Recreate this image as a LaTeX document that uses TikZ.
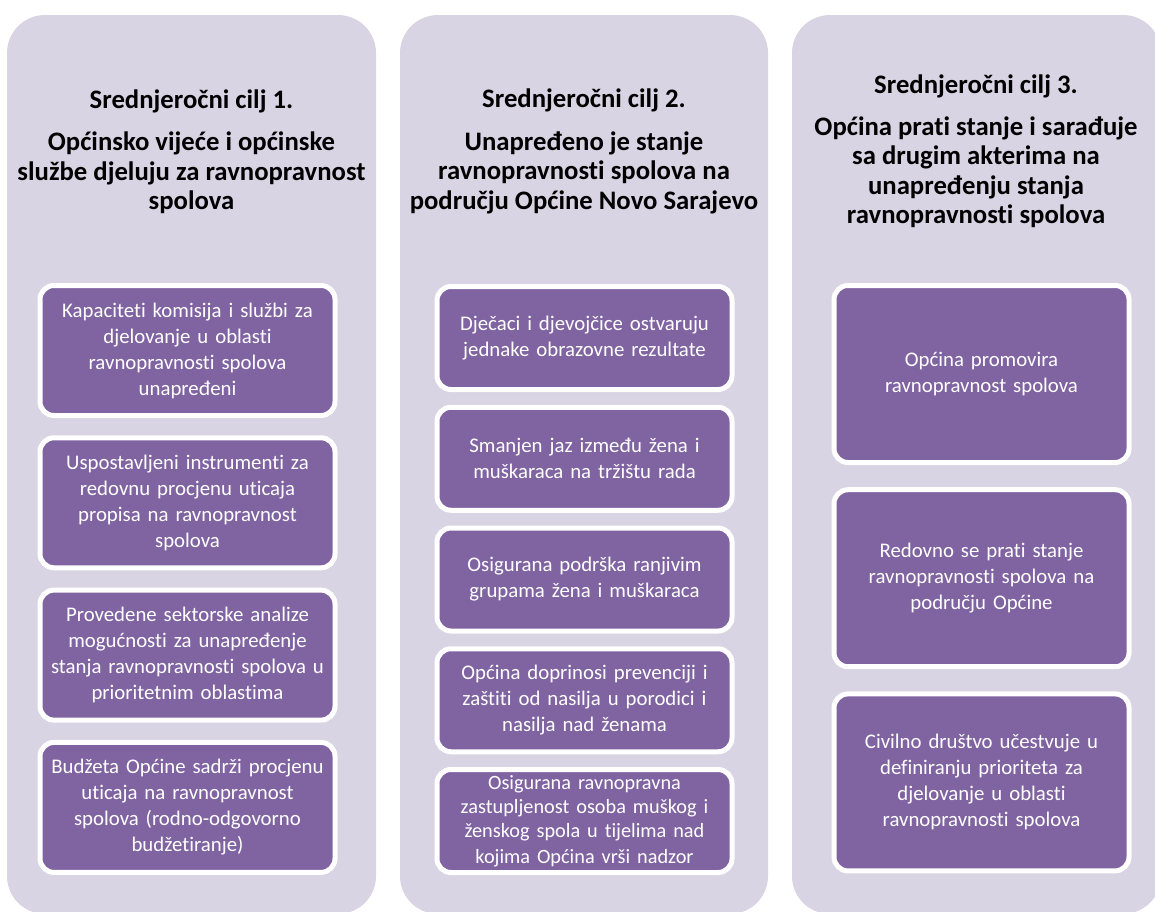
\documentclass[tikz,border=0pt]{standalone}
\usepackage{fontspec}
\setmainfont{Carlito}[Ligatures=NoCommon]
\definecolor{lavender}{RGB}{216,212,227}
\definecolor{plum}{RGB}{128,100,162}

\begin{document}
\begin{tikzpicture}[x=1pt,y=-1pt,
  panel/.style={fill=lavender, rounded corners=38pt},
  goal/.style={font=\bfseries\fontsize{26.7}{29.5}\selectfont, align=center, text=black},
  result/.style={fill=plum, draw=white, line width=5pt, rounded corners=14pt, text=white,
    align=center, text width=288pt, minimum width=295pt, inner sep=0pt,
    font=\fontsize{20.8}{26}\selectfont}]
\clip (0,0) rectangle (1155,911);
% the three panels
\fill[panel] (7,15) rectangle (376,914);
\fill[panel] (400,15) rectangle (768,914);
\fill[panel] (792,15) rectangle (1161,914);
% medium-term goals
\node[goal] (g1) at (191.5,151.5) {Srednjeročni cilj 1.\\[13pt] Općinsko vijeće i općinske\\ službe djeluju za ravnopravnost\\ spolova};
\node[goal] (g2) at (584,151.5) {Srednjeročni cilj 2.\\[13pt] Unapređeno je stanje\\ ravnopravnosti spolova na\\ području Općine Novo Sarajevo};
\node[goal] (g3) at (976,151.5) {Srednjeročni cilj 3.\\[12pt] Općina prati stanje i sarađuje\\ sa drugim akterima na\\ unapređenju stanja\\ ravnopravnosti spolova};
% results, goal 1
\foreach \txt [count=\i] in {
  {Kapaciteti komisija i službi za\\ djelovanje u oblasti\\ ravnopravnosti spolova\\ unapređeni},
  {Uspostavljeni instrumenti za\\ redovnu procjenu uticaja\\ propisa na ravnopravnost\\ spolova},
  {Provedene sektorske analize\\ mogućnosti za unapređenje\\ stanja ravnopravnosti spolova u\\ prioritetnim oblastima},
  {Budžeta Općine sadrži procjenu\\ uticaja na ravnopravnost\\ spolova (rodno-odgovorno\\ budžetiranje)}}
 \node[result, minimum height=130pt] (a\i) at (187.5,{350.5+152.3*(\i-1)}) {\txt};
% results, goal 2
\foreach \txt [count=\i] in {
  {Dječaci i djevojčice ostvaruju\\ jednake obrazovne rezultate},
  {Smanjen jaz između žena i\\ muškaraca na tržištu rada},
  {Osigurana podrška ranjivim\\ grupama žena i muškaraca},
  {Općina doprinosi prevenciji i\\ zaštiti od nasilja u porodici i\\ nasilja nad ženama},
  {\fontsize{20.3}{24}\selectfont Osigurana ravnopravna\\ zastupljenost osoba muškog i\\ ženskog spola u tijelima nad\\ kojima Općina vrši nadzor}}
 \node[result, minimum height=103pt] (b\i) at (584.5,{338+120.75*(\i-1)}) {\txt};
% results, goal 3
\foreach \txt [count=\i] in {
  {Općina promovira\\ ravnopravnost spolova},
  {Redovno se prati stanje\\ ravnopravnosti spolova na\\ području Općine},
  {Civilno društvo učestvuje u\\ definiranju prioriteta za\\ djelovanje u oblasti\\ ravnopravnosti spolova}}
 \node[result, minimum height=177pt] (c\i) at (981.5,{374+204.2*(\i-1)}) {\txt};
\end{tikzpicture}
\end{document}
